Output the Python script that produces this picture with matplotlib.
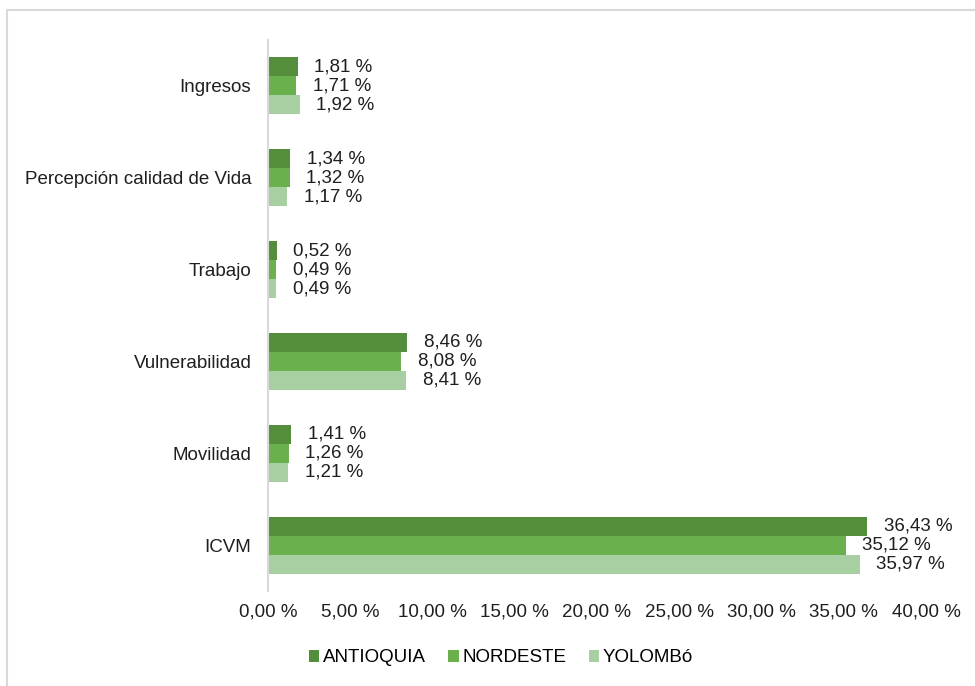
import numpy as np
import matplotlib.pyplot as plt
from matplotlib.patches import Rectangle

plt.rcParams['font.family'] = ['Liberation Sans', 'DejaVu Sans']

categorias = ['Ingresos', 'Percepción calidad de Vida', 'Trabajo',
              'Vulnerabilidad', 'Movilidad', 'ICVM']
series = ['ANTIOQUIA', 'NORDESTE', 'YOLOMBó']
antioquia = [1.81, 1.34, 0.52, 8.46, 1.41, 36.43]
nordeste = [1.71, 1.32, 0.49, 8.08, 1.26, 35.12]
yolombo = [1.92, 1.17, 0.49, 8.41, 1.21, 35.97]
xticks = [0, 5, 10, 15, 20, 25, 30, 35, 40]

colores = ['#548E3D', '#6AB04D', '#A8CFA2']
valores = [antioquia, nordeste, yolombo]

fig = plt.figure(figsize=(9.75, 6.86), dpi=100)
ax = fig.add_axes([268/975, 1-591/686, (926-268)/975, (591-40)/686])

# borde gris del area del grafico
fig.patches.append(Rectangle((7/975, -0.1), 1.2, 1.1 - 10/686,
                             transform=fig.transFigure, fill=False,
                             edgecolor='#d9d9d9', linewidth=1.5))

n = len(categorias)
y = np.arange(n)[::-1]
h = 0.207
offs = [h, 0, -h]
fs = 13.5

for vals, col, off, nom in zip(valores, colores, offs, series):
    bars = ax.barh(y + off, vals, height=h, color=col, label=nom)
    for b, v in zip(bars, vals):
        ax.annotate(('%.2f %%' % v).replace('.', ','),
                    xy=(b.get_width(), b.get_y() + b.get_height()/2),
                    xytext=(12, 0), textcoords='offset points',
                    ha='left', va='center', fontsize=fs, color='#1f1f1f')

ax.set_xlim(0, 40)
ax.set_ylim(-0.5, n - 0.5)
ax.set_xticks(xticks)
ax.set_xticklabels([('%.2f %%' % t).replace('.', ',') for t in xticks])
ax.set_yticks(y)
ax.set_yticklabels(categorias)
ax.tick_params(axis='both', length=0, labelsize=fs, colors='#1f1f1f')
ax.tick_params(axis='x', pad=9)
ax.tick_params(axis='y', pad=12)
for s in ['top', 'right', 'bottom']:
    ax.spines[s].set_visible(False)
ax.spines['left'].set_color('#d9d9d9')
ax.spines['left'].set_linewidth(1.5)

fig.legend(loc='center', bbox_to_anchor=(501/975, 1-658/686), ncol=3,
           frameon=False, fontsize=fs, handlelength=0.55, handleheight=0.55,
           handletextpad=0.2, columnspacing=1.2)

fig.savefig('out.png', dpi=100)
